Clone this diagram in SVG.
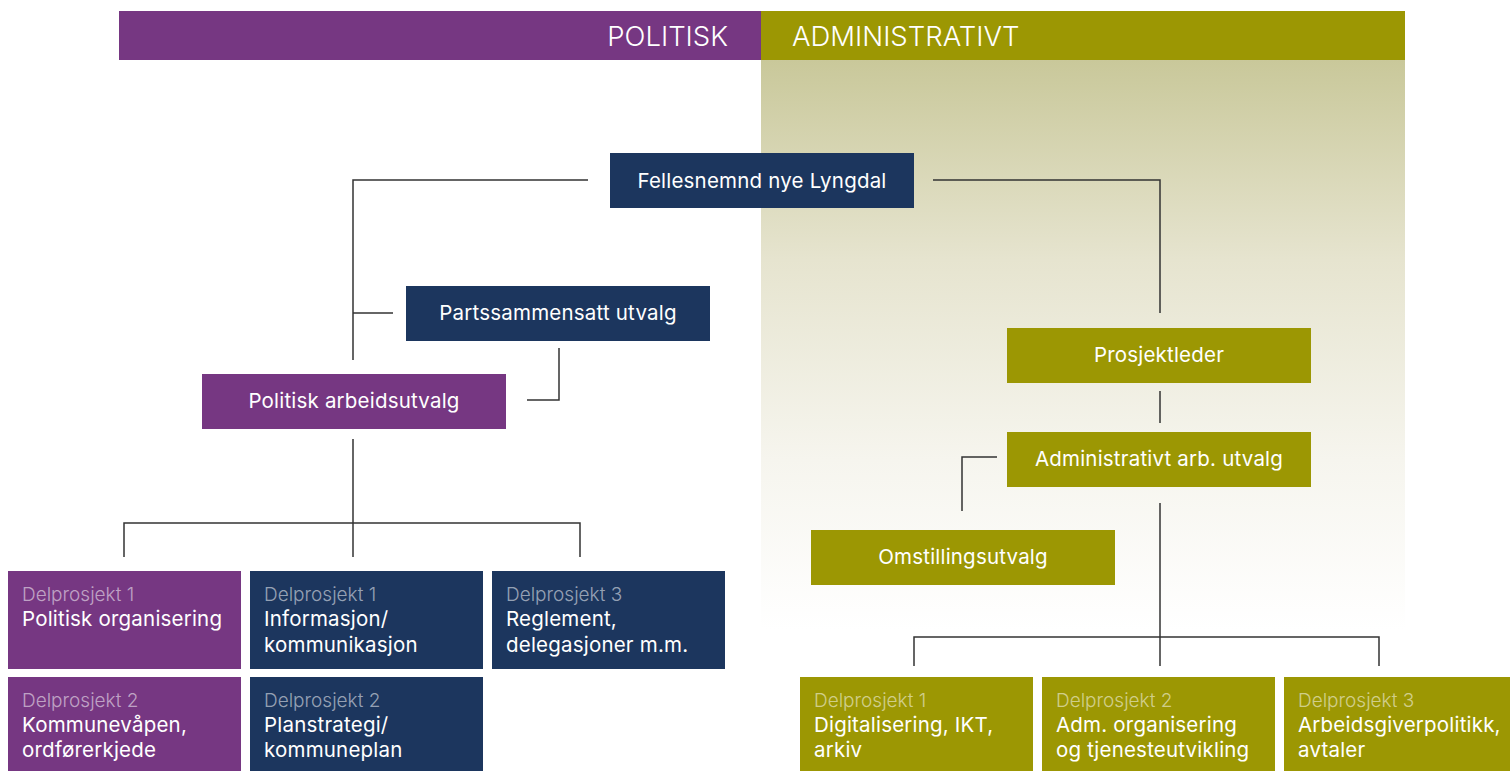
<svg xmlns="http://www.w3.org/2000/svg" width="1510" height="771" viewBox="0 0 1510 771">
<defs>
<linearGradient id="bg" x1="0" y1="0" x2="0" y2="1">
<stop offset="0" stop-color="#c9c89a"/>
<stop offset="0.35" stop-color="#e6e4cf"/>
<stop offset="0.7" stop-color="#f6f5ee"/>
<stop offset="1" stop-color="#ffffff"/>
</linearGradient>
<style>
.pur{fill:#763782}
.nav{fill:#1c365e}
.olv{fill:#9c9703}
.t{font-family:Inter,"Liberation Sans",sans-serif;font-size:20.5px;letter-spacing:0.2px;fill:#ffffff}
.c{text-anchor:middle}
.sub{font-family:Inter,"Liberation Sans",sans-serif;font-size:19px;font-weight:300;fill:#ffffff;fill-opacity:0.55}
.hd{font-family:Inter,"Liberation Sans",sans-serif;font-size:27.5px;font-weight:300;fill:#ffffff}
.ln{fill:none;stroke:#333333;stroke-width:1.5}
</style>
</defs>
<rect width="1510" height="771" fill="#ffffff"/>
<rect x="761" y="60" width="644" height="570" fill="url(#bg)"/>
<g id="header">
<rect x="119" y="11" width="642" height="49" class="pur"/>
<rect x="761" y="11" width="644" height="49" class="olv"/>
<text x="728" y="46" class="hd" text-anchor="end">POLITISK</text>
<text x="792" y="46" class="hd">ADMINISTRATIVT</text>
</g>
<g id="connectors">
<polyline class="ln" points="588,180 353,180 353,360"/>
<polyline class="ln" points="933,180 1160,180 1160,313"/>
<line class="ln" x1="353" y1="313" x2="393" y2="313"/>
<polyline class="ln" points="559,348 559,400 527,400"/>
<line class="ln" x1="353" y1="439" x2="353" y2="557"/>
<polyline class="ln" points="124,557 124,523 580,523 580,557"/>
<line class="ln" x1="1160" y1="391" x2="1160" y2="423"/>
<polyline class="ln" points="997,457 962,457 962,511"/>
<line class="ln" x1="1160" y1="503" x2="1160" y2="666"/>
<polyline class="ln" points="914,666 914,637 1379,637 1379,666"/>
</g>
<g id="fellesnemnd">
<rect x="610" y="153" width="304" height="55" class="nav"/>
<text x="762" y="188" class="t c">Fellesnemnd nye Lyngdal</text>
</g>
<g id="partssammensatt">
<rect x="406" y="286" width="304" height="55" class="nav"/>
<text x="558" y="320" class="t c">Partssammensatt utvalg</text>
</g>
<g id="politisk-arbeidsutvalg">
<rect x="202" y="374" width="304" height="55" class="pur"/>
<text x="354" y="408" class="t c">Politisk arbeidsutvalg</text>
</g>
<g id="prosjektleder">
<rect x="1007" y="328" width="304" height="55" class="olv"/>
<text x="1159" y="362" class="t c">Prosjektleder</text>
</g>
<g id="adm-arb-utvalg">
<rect x="1007" y="432" width="304" height="55" class="olv"/>
<text x="1159" y="466" class="t c">Administrativt arb. utvalg</text>
</g>
<g id="omstillingsutvalg">
<rect x="811" y="530" width="304" height="55" class="olv"/>
<text x="963" y="564" class="t c">Omstillingsutvalg</text>
</g>
<g id="pol-dp1">
<rect x="8" y="571" width="233" height="98" class="pur"/>
<text x="22" y="601" class="sub">Delprosjekt 1</text>
<text x="22" y="626" class="t">Politisk organisering</text>
</g>
<g id="pol-dp2">
<rect x="8" y="677" width="233" height="94" class="pur"/>
<text x="22" y="707" class="sub">Delprosjekt 2</text>
<text x="22" y="732" class="t">Kommunevåpen,</text>
<text x="22" y="757" class="t">ordførerkjede</text>
</g>
<g id="felles-dp1">
<rect x="250" y="571" width="233" height="98" class="nav"/>
<text x="264" y="601" class="sub">Delprosjekt 1</text>
<text x="264" y="626" class="t">Informasjon/</text>
<text x="264" y="652" class="t">kommunikasjon</text>
</g>
<g id="felles-dp2">
<rect x="250" y="677" width="233" height="94" class="nav"/>
<text x="264" y="707" class="sub">Delprosjekt 2</text>
<text x="264" y="732" class="t">Planstrategi/</text>
<text x="264" y="757" class="t">kommuneplan</text>
</g>
<g id="felles-dp3">
<rect x="492" y="571" width="233" height="98" class="nav"/>
<text x="506" y="601" class="sub">Delprosjekt 3</text>
<text x="506" y="626" class="t">Reglement,</text>
<text x="506" y="652" class="t">delegasjoner m.m.</text>
</g>
<g id="adm-dp1">
<rect x="800" y="677" width="233" height="94" class="olv"/>
<text x="814" y="707" class="sub">Delprosjekt 1</text>
<text x="814" y="732" class="t">Digitalisering, IKT,</text>
<text x="814" y="757" class="t">arkiv</text>
</g>
<g id="adm-dp2">
<rect x="1042" y="677" width="233" height="94" class="olv"/>
<text x="1056" y="707" class="sub">Delprosjekt 2</text>
<text x="1056" y="732" class="t">Adm. organisering</text>
<text x="1056" y="757" class="t">og tjenesteutvikling</text>
</g>
<g id="adm-dp3">
<rect x="1284" y="677" width="226" height="94" class="olv"/>
<text x="1298" y="707" class="sub">Delprosjekt 3</text>
<text x="1298" y="732" class="t">Arbeidsgiverpolitikk,</text>
<text x="1298" y="757" class="t">avtaler</text>
</g>
</svg>
